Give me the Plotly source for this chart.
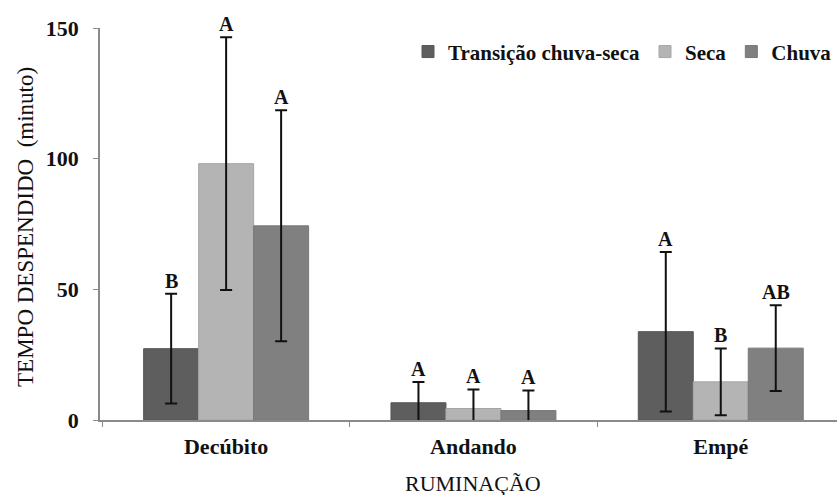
import plotly.graph_objects as go

# Rumination behaviour categories
categories = ["Decúbito", "Andando", "Empé"]

# Mean time spent (minutes) per season
series_names = ["Transição chuva-seca", "Seca", "Chuva"]
mean_transicao = [27.3, 6.6, 33.8]
mean_seca = [98.1, 4.4, 14.6]
mean_chuva = [74.3, 3.6, 27.5]

# Standard deviations
sd_transicao = [21.0, 7.9, 30.5]
sd_seca = [48.4, 7.3, 12.8]
sd_chuva = [44.2, 7.7, 16.4]

# Significance letters
letters_transicao = ["B", "A", "A"]
letters_seca = ["A", "A", "B"]
letters_chuva = ["A", "A", "AB"]

y_ticks = [0, 50, 100, 150]

colors = ["#5e5e5e", "#b4b4b4", "#808080"]
edge_colors = ["#565656", "#a6a6a6", "#787878"]
FONT = "Liberation Serif, Times New Roman, serif"
TEXT = "#111111"
AXIS = "#8a8a8a"
BARGAP = 0.333

means = [mean_transicao, mean_seca, mean_chuva]
sds = [sd_transicao, sd_seca, sd_chuva]
letters = [letters_transicao, letters_seca, letters_chuva]

fig = go.Figure()
for name, m, s, c, ec in zip(series_names, means, sds, colors, edge_colors):
    fig.add_trace(go.Bar(
        name=name, x=categories, y=m,
        marker=dict(color=c, line=dict(color=ec, width=1)),
        error_y=dict(type="data", array=s, visible=True,
                     color="#111111", thickness=2, width=6),
    ))

# letters sit just above each error-bar cap
bar_w = (1 - BARGAP) / len(series_names)
annotations = []
for i, (m, s, lt) in enumerate(zip(means, sds, letters)):
    for j in range(len(categories)):
        annotations.append(dict(
            x=j + (i - 1) * bar_w, y=m[j] + s[j], xref="x", yref="y",
            text=lt[j], showarrow=False, yanchor="bottom", yshift=0,
            font=dict(family=FONT, size=20, color=TEXT, weight="bold"),
        ))

annotations.append(dict(
    x=1, y=0, xref="x", yref="paper", text="RUMINAÇÃO", showarrow=False,
    yanchor="middle", yshift=-63, font=dict(family=FONT, size=22, color=TEXT),
))
annotations.append(dict(
    x=-0.102, y=0.492, xref="paper", yref="paper",
    text="TEMPO DESPENDIDO  (minuto)", showarrow=False, textangle=-90,
    xanchor="center", yanchor="middle",
    font=dict(family=FONT, size=23, color=TEXT),
))

fig.update_layout(
    width=837, height=495,
    margin=dict(l=100, r=0, t=28, b=75),
    paper_bgcolor="white", plot_bgcolor="white",
    barmode="group", bargap=BARGAP, bargroupgap=0,
    font=dict(family=FONT, color=TEXT),
    legend=dict(
        orientation="h", x=1.0, y=0.939, xanchor="right", yanchor="middle",
        font=dict(family=FONT, size=21, color=TEXT, weight="bold"),
        bgcolor="rgba(0,0,0,0)", itemclick=False,
    ),
    annotations=annotations,
    xaxis=dict(
        range=[-0.51, 2.47], showline=True, linecolor=AXIS, linewidth=1.5,
        ticks="outside", tickson="boundaries", ticklen=5, tickcolor=AXIS,
        tickfont=dict(family=FONT, size=22, color=TEXT, weight="bold"),
        ticklabelstandoff=6, showgrid=False, zeroline=False,
    ),
    yaxis=dict(
        range=[0, 150], tickvals=y_ticks, showline=True, linecolor=AXIS,
        linewidth=1.5, ticks="outside", ticklen=5, tickcolor=AXIS,
        tickfont=dict(family=FONT, size=22, color=TEXT, weight="bold"),
        ticklabelstandoff=10, showgrid=False, zeroline=False,
    ),
)

fig.write_html("out.html")
